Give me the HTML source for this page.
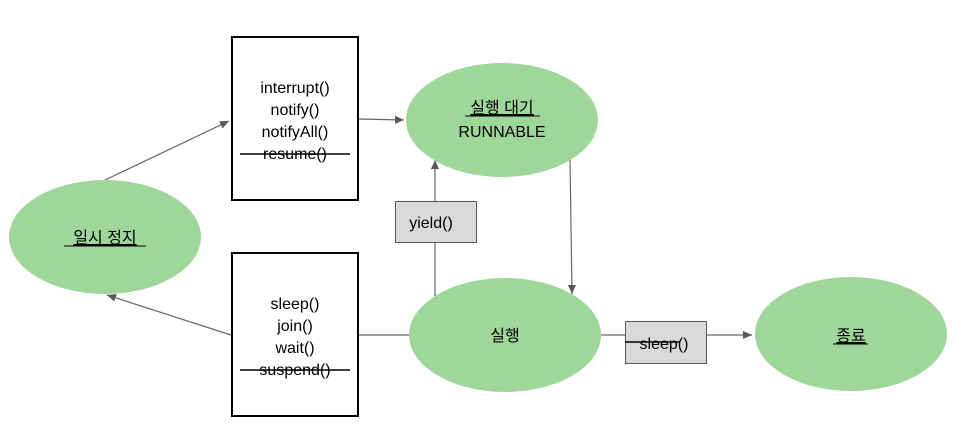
<!DOCTYPE html>
<html><head><meta charset="utf-8"><style>body{margin:0;background:#fff}svg{display:block}text{font-family:"Liberation Sans","Noto Sans CJK KR",sans-serif;font-size:16px;fill:#000}</style></head><body>
<svg width="954" height="448" viewBox="0 0 954 448">
<defs><marker id="a" markerWidth="10" markerHeight="10" refX="9" refY="5" orient="auto" markerUnits="userSpaceOnUse"><path d="M0,1 L9,5 L0,9 z" fill="#595959"/></marker></defs>
<g stroke="#666" stroke-width="1.2" fill="none">
<line x1="105" y1="180" x2="229" y2="121" marker-end="url(#a)"/>
<line x1="358" y1="119" x2="404" y2="120" marker-end="url(#a)"/>
<line x1="435" y1="296" x2="435" y2="160" marker-end="url(#a)"/>
<line x1="570" y1="158" x2="572" y2="294" marker-end="url(#a)"/>
<line x1="358" y1="335" x2="410" y2="335"/>
<line x1="600" y1="335" x2="752" y2="335" marker-end="url(#a)"/>
<line x1="231" y1="335" x2="107" y2="295" marker-end="url(#a)"/>
</g>
<g fill="#9fd69a">
<ellipse cx="105" cy="237" rx="96" ry="57"/>
<ellipse cx="502" cy="120" rx="96" ry="57"/>
<ellipse cx="505" cy="335" rx="96" ry="57"/>
<ellipse cx="851" cy="334" rx="96" ry="57"/>
</g>
<rect x="232" y="37" width="126" height="163" fill="#fff" stroke="#000" stroke-width="2"/>
<rect x="232" y="253" width="126" height="163" fill="#fff" stroke="#000" stroke-width="2"/>
<rect x="395.5" y="201.5" width="81" height="41" fill="#d9d9d9" stroke="#595959"/>
<rect x="625.5" y="321.5" width="81" height="42" fill="#d9d9d9" stroke="#595959"/>
<g text-anchor="middle">
<text x="295" y="93">interrupt()</text>
<text x="295" y="115">notify()</text>
<text x="295" y="137">notifyAll()</text>
<text x="295" y="159">resume()</text>
<text x="295" y="309">sleep()</text>
<text x="295" y="331">join()</text>
<text x="295" y="353">wait()</text>
<text x="295" y="375">suspend()</text>
<text x="105" y="243" text-decoration="underline">일시 정지</text>
<text x="502" y="113" text-decoration="underline">실행 대기</text>
<text x="502" y="137">RUNNABLE</text>
<text x="505" y="341">실행</text>
<text x="851" y="341" text-decoration="underline">종료</text>
<text x="431" y="228">yield()</text>
<text x="664" y="349">sleep()</text>
</g>
<g stroke="#000" stroke-width="1.5">
<line x1="240" y1="154" x2="350" y2="154"/>
<line x1="240" y1="370" x2="350" y2="370"/>
<line x1="625" y1="342" x2="680" y2="342"/>
</g>
<g stroke="#000" stroke-width="1">
<line x1="64" y1="246" x2="146" y2="246"/>
<line x1="465" y1="116" x2="540" y2="116"/>
<line x1="833" y1="344" x2="868" y2="344"/>
</g>
</svg>
</body></html>
